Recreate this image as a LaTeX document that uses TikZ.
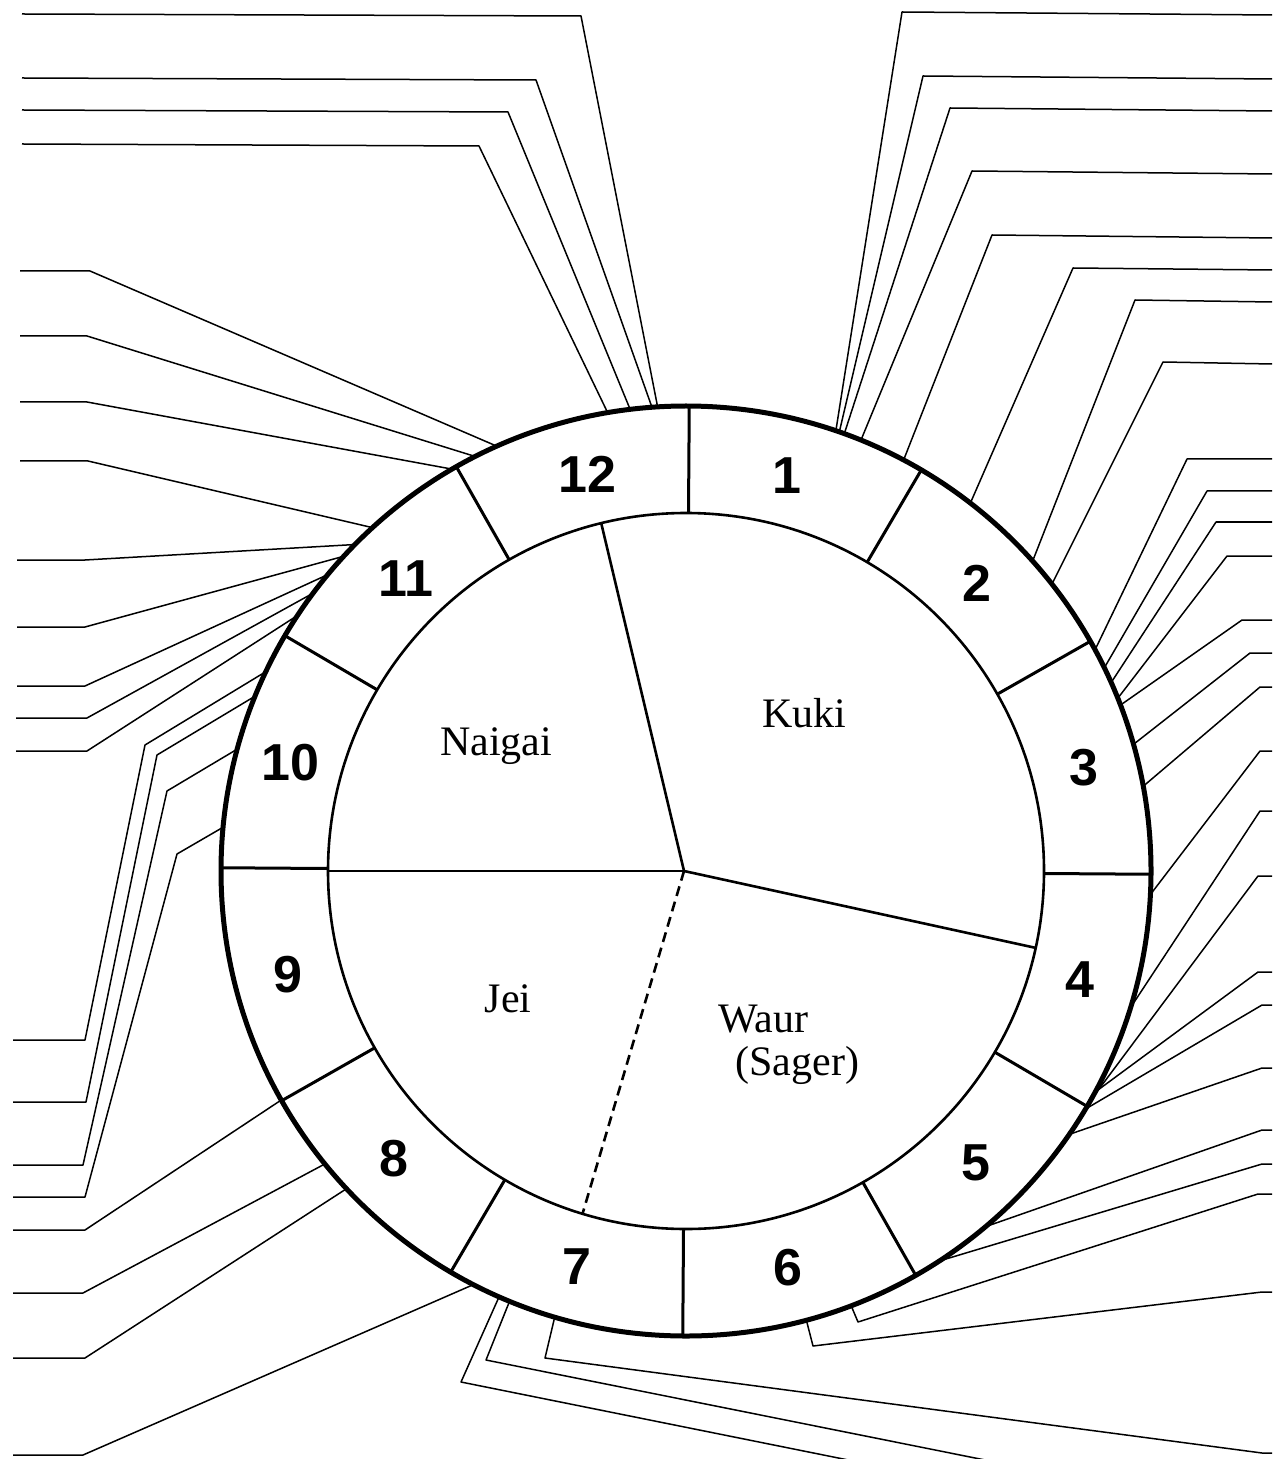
\documentclass[tikz,border=0pt]{standalone}
\usepackage{fontspec}
\setmainfont{Liberation Serif}
\newfontfamily\numfont{Liberation Sans}
\usetikzlibrary{calc}
\begin{document}
\begin{tikzpicture}[x=0.5pt,y=-0.5pt,
  leader/.style={line width=0.75pt, line join=round},
  rimline/.style={line width=2.5pt},
  innerline/.style={line width=1.3pt},
  divline/.style={line width=1.5pt},
  pieline/.style={line width=1.3pt},
  dashline/.style={line width=1.3pt, dash pattern=on 5pt off 3pt},
  numlbl/.style={font=\numfont\bfseries\fontsize{26}{30}\selectfont, inner sep=0pt},
  pielbl/.style={font=\fontsize{21}{25}\selectfont, inner sep=0pt}]
\useasboundingbox (0,0) rectangle (1272,1459);
\clip (0,0) rectangle (1272,1459);
\coordinate (C) at (686,871);
\coordinate (P) at (684,871);
% ring end points of the leader lines (visual angle, measured anticlockwise)
\foreach \n/\a in {L1/93.5, L2/94.2, L3/96.9, L4/99.7,
  L5/114.0, L6/116.95, L7/120.2, L8/132.4, L9/135.4, L10/137.4, L11/140.4, L12/143.3, L13/146.65,
  Le/154.6, Lf/157.9, Lg/164.8, Lh/174.6, Li/209.5, Lj/219.05, Lk/223.1, Ll/242.8,
  Bo/246.3, Bn/247.7, Bm/253.6,
  R25/-75.0, R24/-69.2, R23/-57.0, R22/-49.9, R21/-34.5, R20/-30.8, R19/-28.4, R18/-29.6,
  R17/-17.1, R16/-2.9, R15/10.5, R14/15.8, R13/20.9, R12/21.8, R11/23.9, R10/25.9, R9/28.4,
  R8/38.1, R7/41.8, R6/52.3, R5/62.1, R4/67.9, R3/70.1, R2/70.75, R1/71.2}
  \coordinate (\n) at ($(C)+({-\a}:465)$);
% leader lines, top left
\draw[leader] (22,14) -- (581,16) -- (L1);
\draw[leader] (22,78) -- (536,80) -- (L2);
\draw[leader] (22,110) -- (508,112) -- (L3);
\draw[leader] (22,144) -- (479,146) -- (L4);
% upper left
\draw[leader] (20,271) -- (90,271) -- (L5);
\draw[leader] (20,336) -- (87,336) -- (L6);
\draw[leader] (20,402) -- (87,402) -- (L7);
\draw[leader] (20,461) -- (88,461) -- (L8);
\draw[leader] (17,560) -- (85,560) -- (L9);
\draw[leader] (17,627) -- (85,627) -- (L10);
\draw[leader] (17,686) -- (85,686) -- (L11);
\draw[leader] (16,718) -- (87,718) -- (L12);
\draw[leader] (16,751) -- (87,751) -- (L13);
% lower left
\draw[leader] (13,1040) -- (85,1040) -- (145,745) -- (Le);
\draw[leader] (13,1102) -- (86,1102) -- (157,755) -- (Lf);
\draw[leader] (13,1165) -- (83,1165) -- (167,791) -- (Lg);
\draw[leader] (13,1197) -- (85,1197) -- (177,854) -- (Lh);
\draw[leader] (13,1230) -- (85,1230) -- (Li);
\draw[leader] (13,1293) -- (83,1293) -- (Lj);
\draw[leader] (13,1358) -- (85,1358) -- (Lk);
\draw[leader] (13,1455) -- (83,1455) -- (Ll);
% bottom
\draw[leader] (893,1469) -- (461,1382) -- (Bo);
\draw[leader] (1030,1469) -- (486,1360) -- (Bn);
\draw[leader] (1272,1453) -- (1262,1453) -- (545,1358) -- (Bm);
% right
\draw[leader] (1272,1292) -- (1262,1292) -- (813,1346) -- (R25);
\draw[leader] (1272,1194) -- (1258,1194) -- (858,1322) -- (R24);
\draw[leader] (1272,1164) -- (1262,1164) -- (R23);
\draw[leader] (1272,1130) -- (1262,1130) -- (R22);
\draw[leader] (1272,1068) -- (1262,1068) -- (R21);
\draw[leader] (1272,1005) -- (1262,1005) -- (R20);
\draw[leader] (1272,972) -- (1258,972) -- (R19);
\draw[leader] (1272,876) -- (1258,876) -- (R18);
\draw[leader] (1272,811) -- (1260,811) -- (R17);
\draw[leader] (1272,751) -- (1260,751) -- (R16);
\draw[leader] (1272,687) -- (1260,687) -- (R15);
\draw[leader] (1272,653) -- (1250,653) -- (R14);
\draw[leader] (1272,620) -- (1242,620) -- (R13);
\draw[leader] (1272,556) -- (1227,556) -- (R12);
\draw[leader] (1272,522) -- (1216,522) -- (R11);
\draw[leader] (1272,491) -- (1207,491) -- (R10);
\draw[leader] (1272,459) -- (1187,459) -- (R9);
\draw[leader] (1272,364) -- (1163,362) -- (R8);
\draw[leader] (1272,302) -- (1135,300) -- (R7);
\draw[leader] (1272,270) -- (1073,268) -- (R6);
\draw[leader] (1272,238) -- (992,235) -- (R5);
\draw[leader] (1272,174) -- (972,171) -- (R4);
\draw[leader] (1272,111) -- (950,108) -- (R3);
\draw[leader] (1272,79) -- (923,76) -- (R2);
\draw[leader] (1272,15) -- (902,12) -- (R1);
% ring
\foreach \k in {0,...,11}
  \draw[divline] ($(C)+({0.4-30*\k}:358)$) -- ($(C)+({0.4-30*\k}:465)$);
\draw[rimline] (C) circle[radius=465];
\draw[innerline] (C) circle[radius=358];
% pie
\coordinate (pA) at ($(C)+(-103.7:358)$);
\coordinate (pB) at ($(C)+(12.4:358)$);
\coordinate (pC) at ($(C)+(-180:358)$);
\coordinate (pD) at ($(C)+(106.8:358)$);
\draw[pieline] (pA) -- (P) -- (pB);
\draw[pieline] (P) -- (pC);
\draw[dashline] (P) -- (pD);
% numbers
\foreach \i/\dx in {1/-8, 2/-1, 3/1, 4/-1, 5/2, 6/-1, 7/0, 8/0, 9/-1, 10/0, 11/8, 12/5}
  \node[numlbl] (n\i) at ($(C)+({30*(\i-1)-74.6}:410)+(\dx,0)$) {\i};
% pie labels
\node[pielbl, anchor=base] (kuki) at (804,727) {Kuki};
\node[pielbl, anchor=base] (naigai) at (496,755) {Naigai};
\node[pielbl, anchor=base] (jei) at (508,1012) {Jei};
\node[pielbl, anchor=base west] (waur) at (718,1032) {Waur};
\node[pielbl, anchor=base west] (sager) at (735,1075) {(Sager)};
\end{tikzpicture}
\end{document}
